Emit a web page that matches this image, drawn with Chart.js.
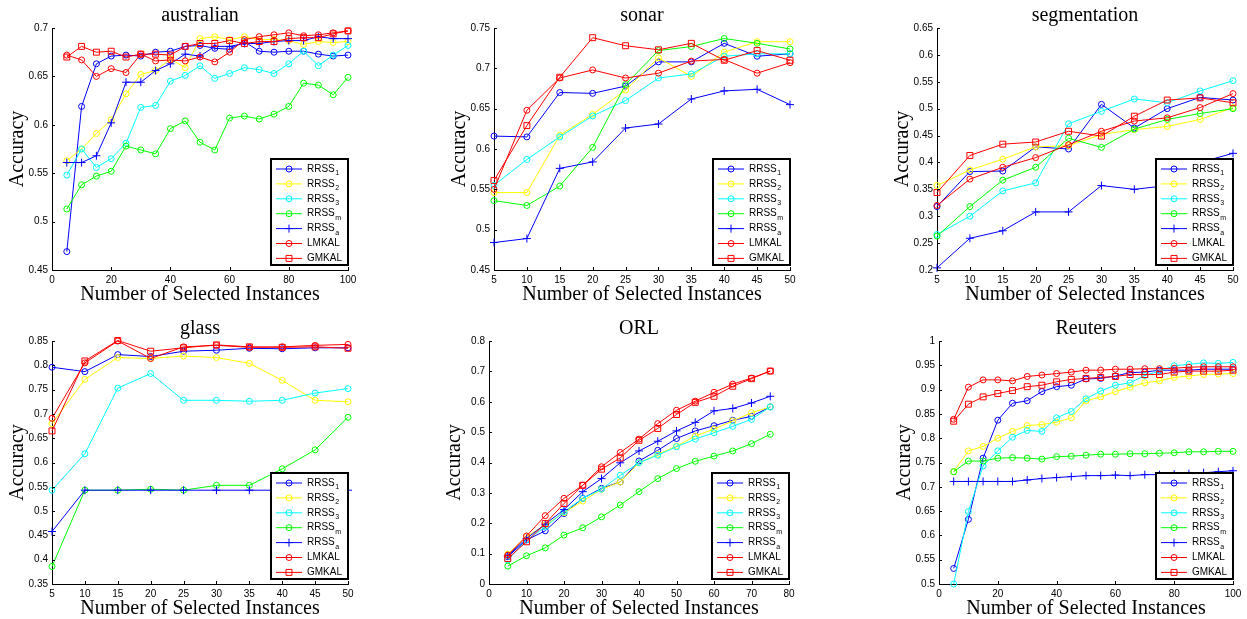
<!DOCTYPE html>
<html>
<head>
<meta charset="utf-8">
<script src="https://cdn.jsdelivr.net/npm/chart.js@4.4.0/dist/chart.umd.min.js"></script>
<style>
  body { margin: 0; background: #fff; overflow: hidden; width: 1247px; height: 619px; position: relative; }
  canvas { position: absolute; }
</style>
</head>
<body>
<canvas id="australian"></canvas>
<canvas id="sonar"></canvas>
<canvas id="segmentation"></canvas>
<canvas id="glass"></canvas>
<canvas id="orl"></canvas>
<canvas id="reuters"></canvas>
<script>
// series names (base + subscript)
const seriesBase = ['RRSS', 'RRSS', 'RRSS', 'RRSS', 'RRSS', 'LMKAL', 'GMKAL'];
const seriesSub = ['1', '2', '3', 'm', 'a', '', ''];

// australian
const ausX = [5, 10, 15, 20, 25, 30, 35, 40, 45, 50, 55, 60, 65, 70, 75, 80, 85, 90, 95, 100];
const ausRRSS1 = [0.469, 0.619, 0.663, 0.671, 0.672, 0.671, 0.675, 0.676, 0.681, 0.682, 0.679, 0.678, 0.686, 0.676, 0.675, 0.676, 0.676, 0.673, 0.671, 0.672];
const ausRRSS2 = [0.563, 0.575, 0.591, 0.605, 0.632, 0.652, 0.656, 0.668, 0.659, 0.689, 0.691, 0.688, 0.691, 0.688, 0.688, 0.687, 0.683, 0.686, 0.685, 0.686];
const ausRRSS3 = [0.548, 0.575, 0.556, 0.565, 0.581, 0.618, 0.620, 0.645, 0.651, 0.661, 0.648, 0.653, 0.659, 0.657, 0.653, 0.663, 0.676, 0.661, 0.672, 0.682];
const ausRRSSm = [0.513, 0.538, 0.547, 0.552, 0.578, 0.574, 0.570, 0.596, 0.604, 0.582, 0.574, 0.607, 0.609, 0.606, 0.611, 0.619, 0.643, 0.641, 0.631, 0.649];
const ausRRSSa = [0.561, 0.561, 0.568, 0.602, 0.644, 0.644, 0.656, 0.663, 0.673, 0.671, 0.681, 0.681, 0.684, 0.684, 0.686, 0.687, 0.687, 0.691, 0.689, 0.689];
const ausLMKAL = [0.672, 0.667, 0.650, 0.658, 0.654, 0.673, 0.666, 0.667, 0.666, 0.670, 0.665, 0.675, 0.688, 0.691, 0.693, 0.695, 0.692, 0.693, 0.695, 0.697];
const ausGMKAL = [0.670, 0.681, 0.675, 0.676, 0.670, 0.673, 0.673, 0.672, 0.681, 0.684, 0.684, 0.687, 0.684, 0.686, 0.686, 0.689, 0.690, 0.690, 0.694, 0.697];

// sonar
const sonX = [5, 10, 15, 20, 25, 30, 35, 40, 45, 50];
const sonRRSS1 = [0.616, 0.615, 0.670, 0.669, 0.678, 0.708, 0.708, 0.731, 0.715, 0.718];
const sonRRSS2 = [0.546, 0.546, 0.617, 0.643, 0.673, 0.713, 0.690, 0.720, 0.733, 0.733];
const sonRRSS3 = [0.555, 0.587, 0.615, 0.641, 0.660, 0.688, 0.693, 0.715, 0.718, 0.718];
const sonRRSSm = [0.536, 0.530, 0.554, 0.602, 0.680, 0.722, 0.727, 0.737, 0.731, 0.724];
const sonRRSSa = [0.484, 0.489, 0.576, 0.584, 0.626, 0.631, 0.662, 0.672, 0.674, 0.655];
const sonLMKAL = [0.550, 0.648, 0.688, 0.698, 0.688, 0.694, 0.709, 0.711, 0.694, 0.707];
const sonGMKAL = [0.561, 0.629, 0.689, 0.738, 0.728, 0.723, 0.731, 0.710, 0.722, 0.710];

// segmentation
const segX = [5, 10, 15, 20, 25, 30, 35, 40, 45, 50];
const segRRSS1 = [0.318, 0.383, 0.384, 0.429, 0.425, 0.508, 0.464, 0.500, 0.521, 0.516];
const segRRSS2 = [0.357, 0.386, 0.406, 0.429, 0.431, 0.452, 0.461, 0.467, 0.480, 0.502];
const segRRSS3 = [0.266, 0.300, 0.347, 0.362, 0.472, 0.495, 0.518, 0.511, 0.533, 0.552];
const segRRSSm = [0.263, 0.318, 0.367, 0.391, 0.445, 0.428, 0.462, 0.480, 0.491, 0.500];
const segRRSSa = [0.204, 0.259, 0.273, 0.308, 0.308, 0.357, 0.350, 0.357, 0.400, 0.417];
const segLMKAL = [0.320, 0.369, 0.391, 0.409, 0.433, 0.458, 0.477, 0.483, 0.502, 0.528];
const segGMKAL = [0.344, 0.413, 0.434, 0.438, 0.458, 0.449, 0.486, 0.516, 0.520, 0.511];

// glass
const glaX = [5, 10, 15, 20, 25, 30, 35, 40, 45, 50];
const glaRRSS1 = [0.796, 0.787, 0.822, 0.818, 0.829, 0.831, 0.835, 0.834, 0.836, 0.836];
const glaRRSS2 = [0.680, 0.771, 0.816, 0.814, 0.819, 0.816, 0.804, 0.769, 0.728, 0.725];
const glaRRSS3 = [0.543, 0.618, 0.753, 0.783, 0.728, 0.728, 0.726, 0.728, 0.743, 0.752];
const glaRRSSm = [0.386, 0.543, 0.543, 0.545, 0.543, 0.553, 0.553, 0.587, 0.626, 0.693];
const glaRRSSa = [0.458, 0.543, 0.543, 0.543, 0.543, 0.543, 0.543, 0.543, 0.543, 0.543];
const glaLMKAL = [0.691, 0.805, 0.850, 0.814, 0.838, 0.841, 0.837, 0.838, 0.841, 0.843];
const glaGMKAL = [0.665, 0.809, 0.851, 0.829, 0.836, 0.842, 0.838, 0.837, 0.838, 0.835];

// ORL
const orlX = [5, 10, 15, 20, 25, 30, 35, 40, 45, 50, 55, 60, 65, 70, 75];
const orlRRSS1 = [0.090, 0.145, 0.175, 0.232, 0.282, 0.315, 0.336, 0.405, 0.440, 0.479, 0.504, 0.521, 0.539, 0.552, 0.583];
const orlRRSS2 = [0.098, 0.156, 0.194, 0.235, 0.273, 0.312, 0.336, 0.399, 0.427, 0.454, 0.487, 0.510, 0.537, 0.564, 0.583];
const orlRRSS3 = [0.079, 0.145, 0.188, 0.238, 0.282, 0.312, 0.358, 0.399, 0.424, 0.452, 0.477, 0.498, 0.519, 0.542, 0.583];
const orlRRSSm = [0.059, 0.093, 0.119, 0.161, 0.185, 0.221, 0.260, 0.304, 0.347, 0.380, 0.404, 0.421, 0.438, 0.462, 0.493];
const orlRRSSa = [0.093, 0.150, 0.197, 0.245, 0.304, 0.347, 0.399, 0.438, 0.470, 0.504, 0.532, 0.570, 0.578, 0.596, 0.618];
const orlLMKAL = [0.095, 0.158, 0.225, 0.282, 0.325, 0.386, 0.433, 0.477, 0.528, 0.572, 0.602, 0.631, 0.658, 0.678, 0.701];
const orlGMKAL = [0.084, 0.139, 0.199, 0.265, 0.325, 0.378, 0.415, 0.473, 0.512, 0.558, 0.598, 0.618, 0.651, 0.676, 0.701];

// Reuters
const reuX = [5, 10, 15, 20, 25, 30, 35, 40, 45, 50, 55, 60, 65, 70, 75, 80, 85, 90, 95, 100];
const reuRRSS1 = [0.532, 0.633, 0.759, 0.837, 0.872, 0.877, 0.896, 0.906, 0.909, 0.922, 0.923, 0.928, 0.935, 0.936, 0.940, 0.940, 0.940, 0.942, 0.942, 0.942];
const reuRRSS2 = [0.731, 0.774, 0.783, 0.800, 0.814, 0.826, 0.828, 0.833, 0.842, 0.877, 0.885, 0.896, 0.905, 0.914, 0.918, 0.925, 0.928, 0.931, 0.932, 0.933];
const reuRRSS3 = [0.500, 0.649, 0.743, 0.774, 0.802, 0.816, 0.814, 0.842, 0.855, 0.881, 0.897, 0.909, 0.914, 0.929, 0.938, 0.949, 0.952, 0.955, 0.954, 0.956];
const reuRRSSm = [0.731, 0.753, 0.753, 0.759, 0.760, 0.759, 0.757, 0.762, 0.763, 0.765, 0.767, 0.767, 0.768, 0.768, 0.769, 0.770, 0.772, 0.772, 0.773, 0.773];
const reuRRSSa = [0.711, 0.711, 0.711, 0.711, 0.711, 0.714, 0.717, 0.719, 0.721, 0.723, 0.723, 0.724, 0.723, 0.725, 0.725, 0.726, 0.727, 0.729, 0.731, 0.733];
const reuLMKAL = [0.839, 0.905, 0.920, 0.920, 0.918, 0.927, 0.930, 0.933, 0.936, 0.940, 0.940, 0.942, 0.942, 0.943, 0.943, 0.944, 0.946, 0.947, 0.947, 0.947];
const reuGMKAL = [0.835, 0.870, 0.885, 0.892, 0.898, 0.906, 0.909, 0.916, 0.921, 0.923, 0.925, 0.927, 0.931, 0.931, 0.931, 0.936, 0.938, 0.938, 0.938, 0.940];

// styles
const seriesColors = ['#0000ff', '#ffff00', '#00ffff', '#00ff00', '#0000ff', '#ff0000', '#ff0000'];
const seriesMarkers = ['circle', 'circle', 'circle', 'circle', 'cross', 'circle', 'rect'];
const markerRadius = [3, 3, 3, 3, 4, 3, 4.2];

function drawMarker(ctx, style, x, y, r, color) {
    ctx.strokeStyle = color;
    ctx.lineWidth = 1;
    ctx.beginPath();
    if (style === 'circle') {
        ctx.arc(x, y, r, 0, Math.PI * 2);
    } else if (style === 'rect') {
        const s = r * Math.SQRT1_2;
        ctx.rect(x - s, y - s, s * 2, s * 2);
    } else {
        ctx.moveTo(x - r, y); ctx.lineTo(x + r, y);
        ctx.moveTo(x, y - r); ctx.lineTo(x, y + r);
    }
    ctx.stroke();
}

// MATLAB-like boxed legend in the lower right corner
const boxLegend = {
    id: 'boxLegend',
    afterDatasetsDraw(chart) {
        const {ctx, chartArea: a} = chart;
        const w = 77, h = 106;
        const x0 = a.right - w, y0 = a.bottom - 5 - h;
        ctx.save();
        ctx.fillStyle = '#fff';
        ctx.fillRect(x0, y0, w, h);
        ctx.strokeStyle = '#000';
        ctx.lineWidth = 2;
        ctx.strokeRect(x0, y0, w, h);
        ctx.textBaseline = 'middle';
        ctx.textAlign = 'left';
        seriesBase.forEach((name, i) => {
            const cy = y0 + 10 + i * 14.9;
            ctx.strokeStyle = seriesColors[i];
            ctx.lineWidth = 1;
            ctx.beginPath();
            ctx.moveTo(x0 + 5, cy);
            ctx.lineTo(x0 + 31, cy);
            ctx.stroke();
            drawMarker(ctx, seriesMarkers[i], x0 + 18, cy, markerRadius[i], seriesColors[i]);
            ctx.fillStyle = '#000';
            ctx.font = '10px "Liberation Sans", Arial, sans-serif';
            ctx.fillText(name, x0 + 36, cy);
            if (seriesSub[i]) {
                const tw = ctx.measureText(name).width;
                ctx.font = '7px "Liberation Sans", Arial, sans-serif';
                ctx.fillText(seriesSub[i], x0 + 36 + tw + 0.5, cy + 4);
            }
        });
        ctx.restore();
    }
};

// ticks pointing into the plot, left and bottom only
const inwardTicks = {
    id: 'inwardTicks',
    afterDraw(chart) {
        const {ctx, chartArea: a, scales: {x, y}} = chart;
        ctx.save();
        ctx.strokeStyle = '#000';
        ctx.lineWidth = 1;
        ctx.beginPath();
        x.ticks.forEach(t => {
            const px = Math.round(x.getPixelForValue(t.value)) + 0.5;
            ctx.moveTo(px, a.bottom);
            ctx.lineTo(px, a.bottom - 3);
        });
        y.ticks.forEach(t => {
            const py = Math.round(y.getPixelForValue(t.value)) + 0.5;
            ctx.moveTo(a.left, py);
            ctx.lineTo(a.left + 3, py);
        });
        ctx.stroke();
        ctx.restore();
    }
};

const serifFont = {family: '"Liberation Serif", "Times New Roman", serif', size: 20, weight: 'normal'};
const titleFont = {family: '"Liberation Serif", "Times New Roman", serif', size: 20, weight: 'normal', lineHeight: 1};
const tickFont = {family: '"Liberation Sans", Arial, sans-serif', size: 10};

function fmt(v) {
    return String(Number(v.toFixed(2)));
}

function makePanel(id, cfg) {
    const canvas = document.getElementById(id);
    canvas.width = 52 + cfg.plotW + 12;
    canvas.height = 28 + cfg.plotH + 40;
    canvas.style.left = cfg.left + 'px';
    canvas.style.top = cfg.top + 'px';

    new Chart(canvas, {
        type: 'line',
        data: {
            datasets: cfg.series.map((ys, i) => ({
                label: seriesBase[i] + seriesSub[i],
                data: cfg.xs.map((x, j) => ({x: x, y: ys[j]})),
                borderColor: seriesColors[i],
                backgroundColor: 'transparent',
                borderWidth: 1,
                pointStyle: seriesMarkers[i],
                pointRadius: markerRadius[i],
                pointBorderWidth: 1,
                pointBorderColor: seriesColors[i],
                pointBackgroundColor: 'transparent',
                tension: 0,
                clip: false,
                order: 7 - i
            }))
        },
        options: {
            responsive: false,
            animation: false,
            layout: {padding: {right: 12}},
            plugins: {
                legend: {display: false},
                tooltip: {enabled: false},
                title: {
                    display: true,
                    text: cfg.title,
                    fullSize: false,
                    color: '#000',
                    font: titleFont,
                    padding: {top: 6, bottom: 2}
                }
            },
            scales: {
                x: {
                    type: 'linear',
                    min: cfg.xRange[0],
                    max: cfg.xRange[1],
                    grid: {display: false, drawTicks: false},
                    border: {display: true, color: '#000', width: 1},
                    ticks: {stepSize: cfg.xStep, color: '#000', font: tickFont, padding: 4, autoSkip: false, maxRotation: 0, callback: fmt},
                    title: {display: true, text: 'Number of Selected Instances', color: '#000', font: serifFont, padding: {top: 0, bottom: 3}},
                    afterFit(scale) {
                        scale.height = 40;
                        scale.paddingLeft = 0;
                        scale.paddingRight = 0;
                    }
                },
                y: {
                    min: cfg.yRange[0],
                    max: cfg.yRange[1],
                    grid: {display: false, drawTicks: false},
                    border: {display: true, color: '#000', width: 1},
                    ticks: {stepSize: cfg.yStep, color: '#000', font: tickFont, padding: 4, autoSkip: false, callback: fmt},
                    title: {display: true, text: 'Accuracy', color: '#000', font: serifFont, padding: {top: 6, bottom: 0}},
                    afterFit(scale) {
                        scale.width = 52;
                        scale.paddingTop = 0;
                        scale.paddingBottom = 0;
                    }
                }
            }
        },
        plugins: [inwardTicks, boxLegend]
    });
}

makePanel('australian', {
    title: 'australian', left: 0, top: 0, plotW: 296, plotH: 242,
    xs: ausX, series: [ausRRSS1, ausRRSS2, ausRRSS3, ausRRSSm, ausRRSSa, ausLMKAL, ausGMKAL],
    xRange: [0, 100], xStep: 20, yRange: [0.45, 0.7], yStep: 0.05
});
makePanel('sonar', {
    title: 'sonar', left: 442, top: 0, plotW: 296, plotH: 242,
    xs: sonX, series: [sonRRSS1, sonRRSS2, sonRRSS3, sonRRSSm, sonRRSSa, sonLMKAL, sonGMKAL],
    xRange: [5, 50], xStep: 5, yRange: [0.45, 0.75], yStep: 0.05
});
makePanel('segmentation', {
    title: 'segmentation', left: 885, top: 0, plotW: 296, plotH: 242,
    xs: segX, series: [segRRSS1, segRRSS2, segRRSS3, segRRSSm, segRRSSa, segLMKAL, segGMKAL],
    xRange: [5, 50], xStep: 5, yRange: [0.2, 0.65], yStep: 0.05
});
makePanel('glass', {
    title: 'glass', left: 0, top: 313, plotW: 296, plotH: 243,
    xs: glaX, series: [glaRRSS1, glaRRSS2, glaRRSS3, glaRRSSm, glaRRSSa, glaLMKAL, glaGMKAL],
    xRange: [5, 50], xStep: 5, yRange: [0.35, 0.85], yStep: 0.05
});
makePanel('orl', {
    title: 'ORL', left: 437, top: 313, plotW: 300, plotH: 243,
    xs: orlX, series: [orlRRSS1, orlRRSS2, orlRRSS3, orlRRSSm, orlRRSSa, orlLMKAL, orlGMKAL],
    xRange: [0, 80], xStep: 10, yRange: [0, 0.8], yStep: 0.1
});
makePanel('reuters', {
    title: 'Reuters', left: 887, top: 313, plotW: 294, plotH: 243,
    xs: reuX, series: [reuRRSS1, reuRRSS2, reuRRSS3, reuRRSSm, reuRRSSa, reuLMKAL, reuGMKAL],
    xRange: [0, 100], xStep: 20, yRange: [0.5, 1], yStep: 0.05
});
</script>
</body>
</html>
